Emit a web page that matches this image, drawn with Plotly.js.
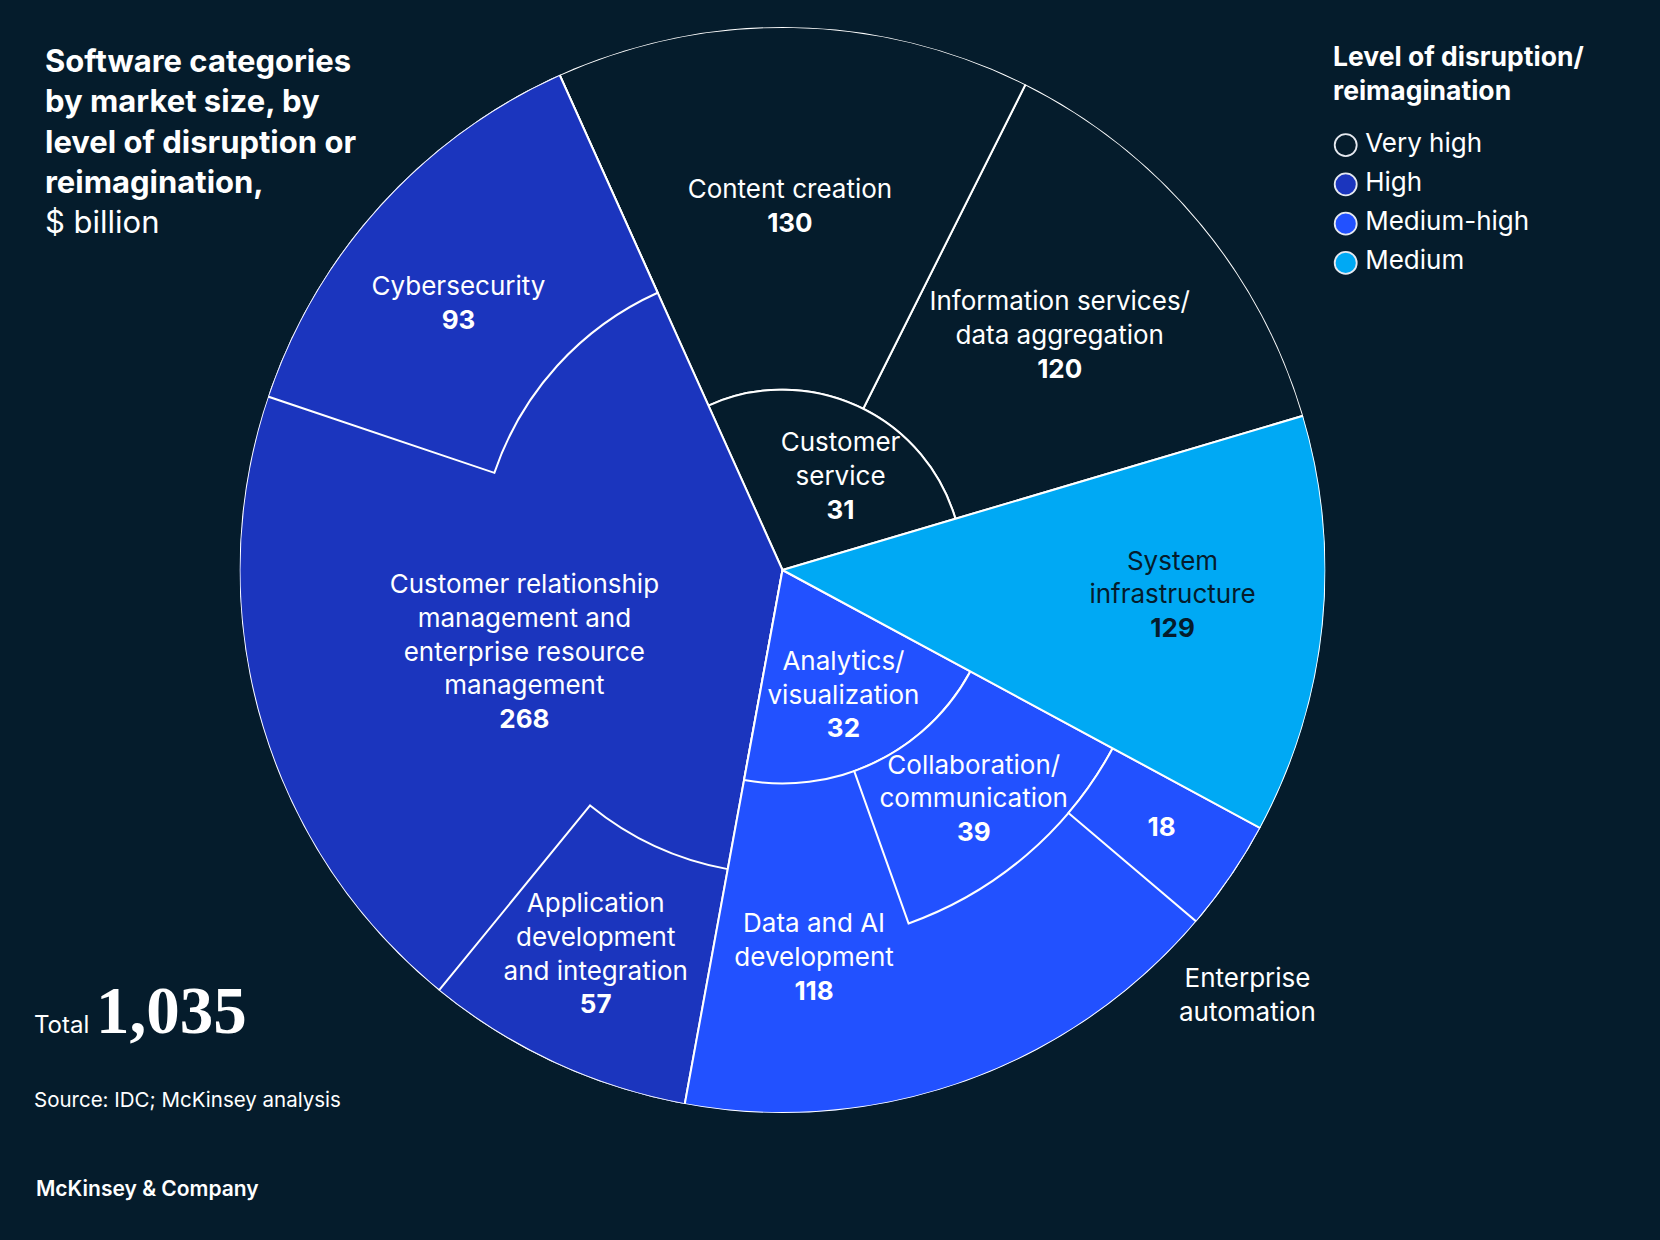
<!DOCTYPE html>
<html><head><meta charset="utf-8">
<script src="https://cdn.plot.ly/plotly-3.0.1.min.js"></script>
<style>html,body{margin:0;padding:0;background:#051c2c;}</style>
</head><body><div id="chart" style="width:1660px;height:1240px;"></div>
<script>
// ---------- data ----------
const levels = ['Very high', 'High', 'Medium-high', 'Medium'];
const levelColors = ['#051c2c', '#1b35be', '#2251ff', '#00a9f4'];

const categories = [
  'Information services/data aggregation',
  'Content creation',
  'Customer service',
  'Cybersecurity',
  'Customer relationship management and enterprise resource management',
  'Application development and integration',
  'Data and AI development',
  'Analytics/visualization',
  'Collaboration/communication',
  'Enterprise automation',
  'System infrastructure'
];
const values = [120, 130, 31, 93, 268, 57, 118, 32, 39, 18, 129];
const categoryLevel = ['Very high', 'Very high', 'Very high', 'High', 'High', 'High',
  'Medium-high', 'Medium-high', 'Medium-high', 'Medium-high', 'Medium'];
const labelLines = [
  'Information services/<br>data aggregation',
  'Content creation',
  'Customer<br>service',
  'Cybersecurity',
  'Customer relationship<br>management and<br>enterprise resource<br>management',
  'Application<br>development<br>and integration',
  'Data and AI<br>development',
  'Analytics/<br>visualization',
  'Collaboration/<br>communication',
  '',
  'System<br>infrastructure'
];

// ---------- geometry (area-true polar treemap) ----------
const BG = '#051c2c';
const CX = 782.5, CY = 670, RPX = 543, W = 1660, H = 1240; // polar centre / radius in px (from bottom)
const total = values.reduce((a, b) => a + b, 0);
const idx = n => categories.indexOf(n);
const val = n => values[idx(n)];
const levelTotal = lv => values.filter((v, i) => categoryLevel[i] === lv).reduce((a, b) => a + b, 0);
const deg = v => v / total * 360;           // angle of a full-radius wedge holding v
const colorOf = n => levelColors[levels.indexOf(categoryLevel[idx(n)])];

const bars = [];
const labelPos = {};
function add(n, start, width, r0, r1) {
  bars.push({ name: n, theta: start + width / 2, width: width, base: r0, r: r1 - r0, color: colorOf(n) });
  if (!labelPos[n]) labelPos[n] = { t: start + width / 2, r: (r0 + r1) / 2 };
}

let a0 = 16.5;
// Very high: inner Customer service, outer split by angle
{
  const lt = levelTotal('Very high');
  const gw = deg(lt);
  const cs = categories[2];
  const rIn = Math.sqrt(val(cs) / lt);
  const outer = [categories[0], categories[1]];
  const os = outer.reduce((s, n) => s + val(n), 0);
  let t = a0;
  outer.forEach(n => { const w = gw * val(n) / os; add(n, t, w, rIn, 1); t += w; });
  labelPos[cs] = { t: a0 + gw * 0.42, r: rIn * 0.6 };
  add(cs, a0, gw, 0, rIn);
  a0 += gw;
}
// High: CRM wedge, Cybersecurity and App dev as outer caps at the two ends
{
  const lt = levelTotal('High');
  const gw = deg(lt);
  const rH = 0.56;
  const f = 1 - rH * rH;
  const cy = categories[3], crm = categories[4], ad = categories[5];
  const wc = deg(val(cy)) / f, wa = deg(val(ad)) / f;
  labelPos[crm] = { t: a0 + wc + (gw - wc - wa) / 2 + 2, r: 0.5 };
  add(crm, a0, gw, 0, 1);
  labelPos[cy] = { t: a0 + wc / 2 + 3, r: 0.77 };
  add(cy, a0, wc, rH, 1);
  labelPos[ad] = { t: a0 + gw - wa / 2 - 1, r: 0.79 };
  add(ad, a0 + gw - wa, wa, rH, 1);
  a0 += gw;
}
// Medium-high: Data and AI wedge, Analytics inner, Collaboration middle-right, Enterprise automation outer-right
{
  const lt = levelTotal('Medium-high');
  const gw = deg(lt);
  const da = categories[6], an = categories[7], co = categories[8], ea = categories[9];
  const rA = Math.sqrt(val(an) / lt);
  const wCo = 42;
  const rC = Math.sqrt(rA * rA + deg(val(co)) / wCo);
  const wEa = deg(val(ea)) / (1 - rC * rC);
  labelPos[da] = { t: a0 + 15, r: 0.72 };
  add(da, a0, gw, 0, 1);
  labelPos[an] = { t: a0 + gw / 2, r: rA * 0.66 };
  add(an, a0, gw, 0, rA);
  labelPos[co] = { t: a0 + gw - wCo / 2 - 1, r: (rA + rC) / 2 + 0.01 };
  add(co, a0 + gw - wCo, wCo, rA, rC);
  labelPos[ea] = { t: a0 + gw - wEa / 2, r: (rC + 1) / 2 };
  add(ea, a0 + gw - wEa, wEa, rC, 1);
  a0 += gw;
}
// Medium
{
  const lt = levelTotal('Medium');
  const gw = deg(lt);
  const si = categories[10];
  labelPos[si] = { t: a0 + gw / 2 + 2, r: 0.72 };
  add(si, a0, gw, 0, 1);
  a0 += gw;
}

const regionTrace = {
  type: 'barpolar',
  theta: bars.map(b => b.theta),
  width: bars.map(b => b.width),
  base: bars.map(b => b.base),
  r: bars.map(b => b.r),
  marker: { color: bars.map(b => b.color), line: { color: '#ffffff', width: 2 } },
  hoverinfo: 'skip',
  showlegend: false
};

const labelTrace = {
  type: 'scatterpolar',
  mode: 'text',
  cliponaxis: false,
  r: categories.map(n => labelPos[n].r),
  theta: categories.map(n => labelPos[n].t),
  text: categories.map((n, i) => (labelLines[i] ? labelLines[i] + '<br>' : '') + '<b>' + values[i] + '</b>'),
  textfont: {
    family: 'Inter, sans-serif', size: 26,
    color: categories.map(n => categoryLevel[idx(n)] === 'Medium' ? BG : '#ffffff')
  },
  hoverinfo: 'skip',
  showlegend: false
};

// outside label for the small slice: polar position converted to paper coordinates
const eaPos = { t: labelPos[categories[9]].t - 8, r: 1.16 };
const eaX = (CX + eaPos.r * RPX * Math.cos(eaPos.t * Math.PI / 180)) / W;
const eaY = (CY + eaPos.r * RPX * Math.sin(eaPos.t * Math.PI / 180)) / H;

// custom legend
const legendMarkers = {
  type: 'scatter', xaxis: 'x', yaxis: 'y', mode: 'markers',
  x: levels.map(() => 0), y: levels,
  marker: { size: 22, color: levelColors, line: { color: '#e6e9f0', width: 1.8 } },
  cliponaxis: false, hoverinfo: 'skip', showlegend: false
};
const legendTexts = {
  type: 'scatter', xaxis: 'x', yaxis: 'y', mode: 'text',
  x: levels.map(() => 0.062), y: levels, text: levels,
  textposition: 'middle right',
  textfont: { family: 'Inter, sans-serif', size: 26, color: '#ffffff' },
  cliponaxis: false, hoverinfo: 'skip', showlegend: false
};

const layout = {
  width: W, height: H,
  margin: { l: 0, r: 0, t: 0, b: 0 },
  paper_bgcolor: BG, plot_bgcolor: BG,
  showlegend: false,
  polar: {
    domain: { x: [(CX - RPX) / W, (CX + RPX) / W], y: [(CY - RPX) / H, (CY + RPX) / H] },
    bgcolor: BG,
    barmode: 'overlay',
    bargap: 0,
    radialaxis: { range: [0, 1], visible: false },
    angularaxis: { visible: false, rotation: 0, direction: 'counterclockwise' }
  },
  xaxis: { domain: [1330 / W, 1], range: [-0.05, 1], visible: false, fixedrange: true },
  yaxis: { domain: [1 - 282.6 / H, 1 - 125.4 / H], range: [3.5, -0.5], type: 'category', visible: false, fixedrange: true },
  annotations: [
    {
      xref: 'paper', yref: 'paper', x: 43 / W, y: 1 - 40 / H, xanchor: 'left', yanchor: 'top', align: 'left',
      showarrow: false,
      text: '<b>Software categories<br>by market size, by<br>level of disruption or<br>reimagination,</b><br>$ billion',
      font: { family: 'Inter, sans-serif', size: 31, color: '#ffffff' }
    },
    {
      xref: 'paper', yref: 'paper', x: 1331 / W, y: 1 - 38 / H, xanchor: 'left', yanchor: 'top', align: 'left',
      showarrow: false,
      text: '<b>Level of disruption/<br>reimagination</b>',
      font: { family: 'Inter, sans-serif', size: 26.5, color: '#ffffff' }
    },
    {
      xref: 'paper', yref: 'paper', x: eaX, y: eaY, xanchor: 'center', yanchor: 'middle', align: 'center',
      showarrow: false,
      text: 'Enterprise<br>automation',
      font: { family: 'Inter, sans-serif', size: 26, color: '#ffffff' }
    },
    {
      xref: 'paper', yref: 'paper', x: 32 / W, y: 1 - 1010 / H, xanchor: 'left', yanchor: 'middle', align: 'left',
      showarrow: false,
      text: 'Total <span style="font-family:\'Liberation Serif\', serif;font-size:67px;font-weight:bold;">' + total.toLocaleString('en-US') + '</span>',
      font: { family: 'Inter, sans-serif', size: 24, color: '#ffffff' }
    },
    {
      xref: 'paper', yref: 'paper', x: 32 / W, y: 1 - 1099 / H, xanchor: 'left', yanchor: 'middle', align: 'left',
      showarrow: false,
      text: 'Source: IDC; McKinsey analysis',
      font: { family: 'Inter, sans-serif', size: 20.5, color: '#ffffff' }
    },
    {
      xref: 'paper', yref: 'paper', x: 34 / W, y: 1 - 1188 / H, xanchor: 'left', yanchor: 'middle', align: 'left',
      showarrow: false,
      text: 'McKinsey &amp; Company',
      font: { family: 'Inter, sans-serif', size: 21, color: '#ffffff', weight: 600 }
    }
  ]
};

Plotly.newPlot('chart', [regionTrace, labelTrace, legendMarkers, legendTexts], layout, { staticPlot: true, displayModeBar: false });
</script>
</body></html>
